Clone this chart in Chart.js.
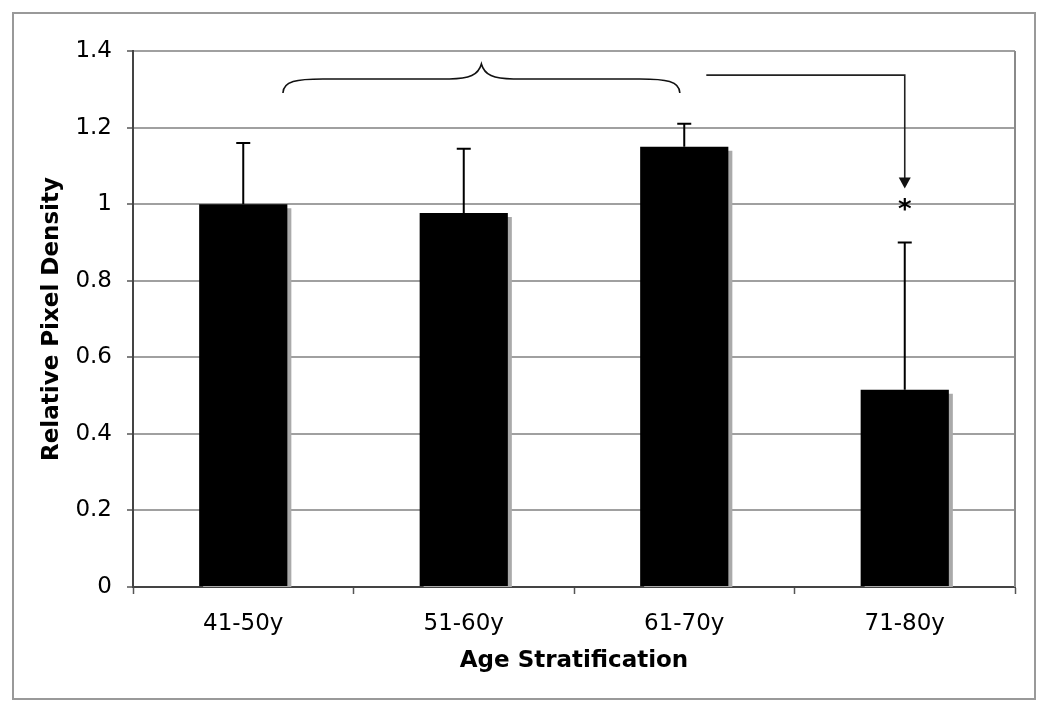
<!DOCTYPE html>
<html>
<head>
<meta charset="utf-8">
<script src="https://cdn.jsdelivr.net/npm/chart.js@4/dist/chart.umd.min.js"></script>
<style>
  body { margin: 0; background: #fff; }
  canvas { display: block; }
</style>
</head>
<body>
<canvas id="densityChart" width="1050" height="711"></canvas>
<script>
  // values
  const ageGroups = ['41-50y', '51-60y', '61-70y', '71-80y'];
  const pixelDensity = [1.0, 0.977, 1.15, 0.515];
  const errorTops = [1.16, 1.145, 1.21, 0.90];

  // brace over the first three groups, arrow to the last one (category index / y value)
  const braceSpan = [0.18, 1.98];
  const braceLevels = [1.29, 1.327, 1.366];   // ends, flat part, tip
  const arrowStart = [2.1, 1.337];
  const arrowEnd = [3, 1.041];
  const starAt = [3, 1.0];

  const FONT = "'DejaVu Sans', Verdana, sans-serif";

  // grey drop shadow behind the bars
  const barShadow = {
    id: 'barShadow',
    beforeDatasetsDraw(chart) {
      const ctx = chart.ctx;
      ctx.save();
      ctx.shadowColor = '#aaaaaa';
      ctx.shadowOffsetX = 4;
      ctx.shadowOffsetY = 4;
      ctx.shadowBlur = 0;
    },
    afterDatasetsDraw(chart) {
      chart.ctx.restore();
    }
  };

  // upper error bars
  const errorBars = {
    id: 'errorBars',
    afterDatasetsDraw(chart) {
      const ctx = chart.ctx;
      const y = chart.scales.y;
      const meta = chart.getDatasetMeta(0);
      ctx.save();
      ctx.strokeStyle = '#000';
      ctx.lineWidth = 2;
      meta.data.forEach((bar, i) => {
        const top = y.getPixelForValue(errorTops[i]);
        ctx.beginPath();
        ctx.moveTo(bar.x, bar.y);
        ctx.lineTo(bar.x, top);
        ctx.moveTo(bar.x - 7, top);
        ctx.lineTo(bar.x + 7, top);
        ctx.stroke();
      });
      ctx.restore();
    }
  };

  // brace, arrow, asterisk, plot frame and outer border
  const annotations = {
    id: 'annotations',
    afterDraw(chart) {
      const ctx = chart.ctx;
      const {x, y} = chart.scales;
      const area = chart.chartArea;
      ctx.save();

      // right side of the plot frame
      ctx.strokeStyle = '#8a8a8a';
      ctx.lineWidth = 2;
      ctx.beginPath();
      ctx.moveTo(area.right, area.top);
      ctx.lineTo(area.right, area.bottom);
      ctx.stroke();

      // curly brace
      const x0 = x.getPixelForValue(braceSpan[0]);
      const x1 = x.getPixelForValue(braceSpan[1]);
      const xm = (x0 + x1) / 2;
      const yEnd = y.getPixelForValue(braceLevels[0]);
      const yFlat = y.getPixelForValue(braceLevels[1]);
      const yTip = y.getPixelForValue(braceLevels[2]);
      ctx.strokeStyle = '#111';
      ctx.lineWidth = 1.6;
      ctx.beginPath();
      ctx.moveTo(x0, yEnd);
      ctx.bezierCurveTo(x0, yFlat + 2, x0 + 14, yFlat, x0 + 40, yFlat);
      ctx.lineTo(xm - 32, yFlat);
      ctx.bezierCurveTo(xm - 12, yFlat, xm - 3, yFlat - 4, xm, yTip);
      ctx.bezierCurveTo(xm + 3, yFlat - 4, xm + 12, yFlat, xm + 32, yFlat);
      ctx.lineTo(x1 - 40, yFlat);
      ctx.bezierCurveTo(x1 - 14, yFlat, x1, yFlat + 2, x1, yEnd);
      ctx.stroke();

      // elbow arrow
      const ax0 = x.getPixelForValue(arrowStart[0]);
      const ay0 = y.getPixelForValue(arrowStart[1]);
      const ax1 = x.getPixelForValue(arrowEnd[0]);
      const ay1 = y.getPixelForValue(arrowEnd[1]);
      ctx.strokeStyle = '#222';
      ctx.lineWidth = 1.6;
      ctx.beginPath();
      ctx.moveTo(ax0, ay0);
      ctx.lineTo(ax1, ay0);
      ctx.lineTo(ax1, ay1 - 10);
      ctx.stroke();
      ctx.fillStyle = '#111';
      ctx.beginPath();
      ctx.moveTo(ax1 - 6, ay1 - 11);
      ctx.lineTo(ax1 + 6, ay1 - 11);
      ctx.lineTo(ax1, ay1);
      ctx.closePath();
      ctx.fill();

      // significance star
      ctx.fillStyle = '#000';
      ctx.font = 'bold 26px ' + FONT;
      ctx.textAlign = 'center';
      ctx.textBaseline = 'alphabetic';
      ctx.fillText('*', x.getPixelForValue(starAt[0]), y.getPixelForValue(starAt[1]) + 14);

      // outer figure border
      ctx.strokeStyle = '#999';
      ctx.lineWidth = 2;
      ctx.strokeRect(13, 13, 1022, 686);
      ctx.restore();
    }
  };

  new Chart(document.getElementById('densityChart'), {
    type: 'bar',
    data: {
      labels: ageGroups,
      datasets: [{
        label: 'Relative Pixel Density',
        data: pixelDensity,
        backgroundColor: '#000',
        borderWidth: 0,
        barPercentage: 0.4,
        categoryPercentage: 1,
        clip: 0
      }]
    },
    options: {
      responsive: false,
      animation: false,
      events: [],
      layout: { padding: { left: 0, top: 51, right: 35, bottom: 0 } },
      plugins: {
        legend: { display: false },
        tooltip: { enabled: false }
      },
      scales: {
        x: {
          grid: {
            drawOnChartArea: false,
            offset: true,
            tickLength: 7,
            tickColor: '#555',
            tickWidth: 1.5
          },
          border: { color: '#444', width: 2 },
          ticks: {
            color: '#000',
            padding: 16,
            font: { family: FONT, size: 23 }
          },
          title: {
            display: true,
            text: 'Age Stratification',
            color: '#000',
            font: { family: FONT, size: 23, weight: 'bold' },
            padding: { top: 0, bottom: 36 }
          },
          afterFit(scale) { scale.height = 124; }
        },
        y: {
          min: 0,
          max: 1.4,
          ticks: {
            stepSize: 0.2,
            color: '#000',
            padding: 15,
            font: { family: FONT, size: 23 },
            callback: (v) => String(Math.round(v * 10) / 10)
          },
          grid: {
            color: '#a0a0a0',
            lineWidth: 2,
            tickLength: 6,
            tickColor: '#555',
            tickWidth: 1.5
          },
          border: { color: '#444', width: 2 },
          title: {
            display: true,
            text: 'Relative Pixel Density',
            color: '#000',
            font: { family: FONT, size: 23, weight: 'bold' },
            padding: { top: 38, bottom: 0 }
          },
          afterFit(scale) { scale.width = 133; }
        }
      }
    },
    plugins: [barShadow, errorBars, annotations]
  });
</script>
</body>
</html>
